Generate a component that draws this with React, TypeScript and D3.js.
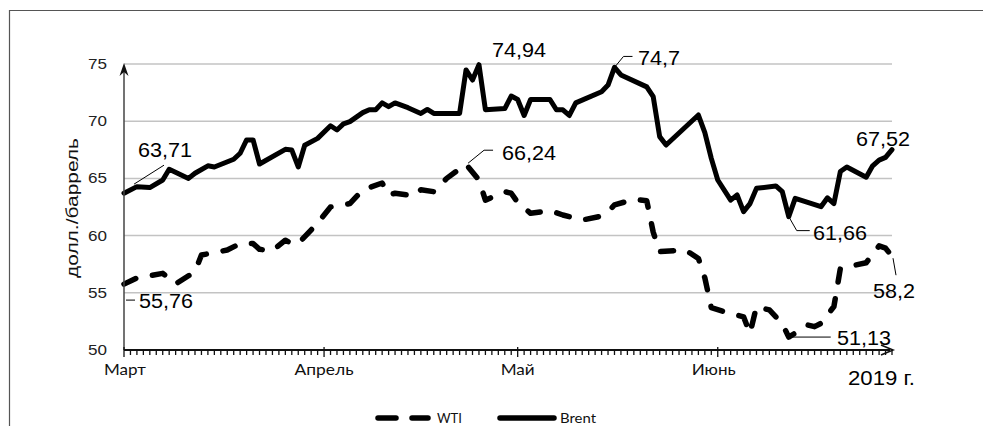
import React from "react";
import * as d3 from "d3";

const brentDates = [
  "2019-03-01","2019-03-03","2019-03-05","2019-03-07","2019-03-08","2019-03-11","2019-03-12","2019-03-14","2019-03-15","2019-03-18",
  "2019-03-19","2019-03-20","2019-03-21","2019-03-22","2019-03-26","2019-03-27","2019-03-28","2019-03-29","2019-03-31","2019-04-02",
  "2019-04-03","2019-04-04","2019-04-05","2019-04-07","2019-04-08","2019-04-09","2019-04-10","2019-04-11","2019-04-12","2019-04-14",
  "2019-04-16","2019-04-17","2019-04-18","2019-04-22","2019-04-23","2019-04-24","2019-04-25","2019-04-26","2019-04-29","2019-04-30",
  "2019-05-01","2019-05-02","2019-05-03","2019-05-06","2019-05-07","2019-05-08","2019-05-09","2019-05-10","2019-05-14","2019-05-15",
  "2019-05-16","2019-05-17","2019-05-21","2019-05-22","2019-05-23","2019-05-24","2019-05-29","2019-05-30","2019-05-31","2019-06-01",
  "2019-06-03","2019-06-04","2019-06-05","2019-06-06","2019-06-07","2019-06-10","2019-06-11","2019-06-12","2019-06-13","2019-06-17",
  "2019-06-18","2019-06-19","2019-06-20","2019-06-21","2019-06-24","2019-06-25","2019-06-26","2019-06-27","2019-06-28"
];
const brentValues = [
  63.71,64.28,64.2,64.86,65.8,65.0,65.45,66.1,66.0,66.67,
  67.2,68.36,68.36,66.26,67.54,67.48,66.0,67.9,68.5,69.6,
  69.23,69.76,69.96,70.75,71.0,71.0,71.6,71.27,71.6,71.18,
  70.68,71.03,70.68,70.68,74.48,73.6,74.94,71.0,71.1,72.2,
  71.9,70.5,71.9,71.9,71.0,71.0,70.5,71.6,72.58,73.16,
  74.7,74.04,73.0,72.14,68.65,67.92,70.54,69.0,66.75,64.86,
  63.1,63.55,62.1,62.8,64.13,64.34,63.84,61.66,63.26,62.53,
  63.3,62.8,65.6,66.0,65.1,66.1,66.6,66.84,67.52
];

const wtiDates = [
  "2019-03-01","2019-03-03","2019-03-07","2019-03-09","2019-03-12","2019-03-13","2019-03-17","2019-03-19","2019-03-21","2019-03-22",
  "2019-03-24","2019-03-26","2019-03-27","2019-03-28","2019-03-31","2019-04-02","2019-04-05","2019-04-07","2019-04-10","2019-04-11",
  "2019-04-12","2019-04-15","2019-04-16","2019-04-18","2019-04-20","2019-04-23","2019-04-25","2019-04-26","2019-04-29","2019-04-30",
  "2019-05-01","2019-05-03","2019-05-06","2019-05-08","2019-05-10","2019-05-11","2019-05-14","2019-05-15","2019-05-16","2019-05-19",
  "2019-05-21","2019-05-22","2019-05-23","2019-05-27","2019-05-29","2019-05-30","2019-05-31","2019-06-02","2019-06-05","2019-06-06",
  "2019-06-07","2019-06-09","2019-06-11","2019-06-12","2019-06-15","2019-06-16","2019-06-17","2019-06-19","2019-06-20","2019-06-24",
  "2019-06-26","2019-06-27","2019-06-28"
];
const wtiValues = [
  55.76,56.3,56.7,55.77,56.85,58.3,58.74,59.3,59.3,58.8,
  58.68,59.6,59.3,59.3,61.1,62.5,62.8,64.0,64.6,63.55,
  63.7,63.46,64.0,63.84,65.0,66.24,64.86,63.1,63.84,63.7,
  62.9,61.95,62.18,61.8,61.5,61.36,61.71,62.09,62.68,63.17,
  63.05,60.3,58.6,58.74,58.0,56.3,53.7,53.35,52.9,51.46,
  53.8,53.5,52.3,51.13,52.18,52.04,52.33,53.8,57.14,57.63,
  59.1,58.9,58.2
];

const yTicks = [50, 55, 60, 65, 70, 75];
const monthLabels = ["Март", "Апрель", "Май", "Июнь"];
const monthDates = ["2019-03-01", "2019-04-01", "2019-05-01", "2019-06-01"];
const yearLabel = "2019 г.";
const yTitle = "долл./баррель";
const seriesNames = ["WTI", "Brent"];

// annotations: value label text, anchor date and which series
const annotations = [
  { text: "63,71", date: "2019-03-01", series: "Brent" },
  { text: "74,94", date: "2019-04-25", series: "Brent" },
  { text: "74,7", date: "2019-05-16", series: "Brent" },
  { text: "61,66", date: "2019-06-12", series: "Brent" },
  { text: "67,52", date: "2019-06-28", series: "Brent" },
  { text: "55,76", date: "2019-03-01", series: "WTI" },
  { text: "66,24", date: "2019-04-23", series: "WTI" },
  { text: "51,13", date: "2019-06-12", series: "WTI" },
  { text: "58,2", date: "2019-06-28", series: "WTI" },
];

const parse = d3.utcParse("%Y-%m-%d");

export default function App() {
  const W = 983, H = 426;
  const x0 = 124, x1 = 892, yTop = 64, yBot = 350;
  const x = d3.scaleUtc().domain([parse("2019-03-01")!, parse("2019-06-28")!]).range([x0, x1]);
  const y = d3.scaleLinear().domain([50, 75]).range([yBot, yTop]);

  const brent = brentDates.map((d, i) => ({ d: parse(d)!, v: brentValues[i] }));
  const wti = wtiDates.map((d, i) => ({ d: parse(d)!, v: wtiValues[i] }));
  const line = d3.line<{ d: Date; v: number }>().x((p) => x(p.d)).y((p) => y(p.v));

  const days = d3.utcDay.range(parse("2019-03-01")!, parse("2019-06-29")!);
  const monthSet = new Set(monthDates);
  const fmt = d3.utcFormat("%Y-%m-%d");

  const pt = (a: { date: string; series: string }) => {
    const arr = a.series === "Brent" ? brent : wti;
    const p = arr.find((q) => fmt(q.d) === a.date)!;
    return [x(p.d), y(p.v)];
  };

  const annLayout: Record<string, { tx: number; ty: number; lead?: (p: number[]) => string }> = {
    "63,71": { tx: 138, ty: 157, lead: (p) => `M${p[0] + 10},${p[1] - 9}L${p[0] + 40},${p[1] - 28}` },
    "74,94": { tx: 492, ty: 57 },
    "74,7": { tx: 638, ty: 65, lead: (p) => `M${p[0]},${p[1]}L${p[0] + 9},${p[1] - 11}L${p[0] + 18},${p[1] - 11}` },
    "61,66": { tx: 813, ty: 240, lead: (p) => `M${p[0]},${p[1]}L${p[0] + 8},${p[1] + 14}L${p[0] + 21},${p[1] + 14}` },
    "67,52": { tx: 856, ty: 146 },
    "55,76": { tx: 139, ty: 308, lead: (p) => `M${p[0] + 2},${p[1] + 16}L${p[0] + 11},${p[1] + 16}` },
    "66,24": { tx: 502, ty: 160, lead: (p) => `M${p[0] + 2},${p[1] - 1}L${p[0] + 18},${p[1] - 14}L${p[0] + 27},${p[1] - 14}` },
    "51,13": { tx: 837, ty: 345, lead: (p) => `M${p[0] + 3},${p[1]}L${p[0] + 42},${p[1]}` },
    "58,2": { tx: 873, ty: 298, lead: (p) => `M${p[0] + 1},${p[1] + 2}L${p[0] + 4},${p[1] + 19}` },
  };

  const arial = "'Liberation Sans', Arial, sans-serif";
  const calibri = "Lato, 'Open Sans', sans-serif";

  return (
    <div style={{ position: "fixed", left: 0, top: 0, width: W, height: H, background: "#fff" }}>
      <svg width={W} height={H} viewBox={`0 0 ${W} ${H}`} style={{ display: "block" }}>
        <rect x={0} y={0} width={W} height={H} fill="#fff" />
        {/* outer frame */}
        <path d={`M9.5,${H}L9.5,10.5L${W},10.5`} fill="none" stroke="#555" strokeWidth={1.2} />

        {/* gridlines */}
        {yTicks.filter((t) => t > 50).map((t) => (
          <line key={t} x1={x0} x2={x1} y1={y(t)} y2={y(t)} stroke="#c3c3c3" strokeWidth={1.5} />
        ))}

        {/* y tick labels */}
        {yTicks.map((t) => (
          <text key={t} x={107} y={y(t) + 5} textAnchor="end" fontFamily={arial} fontSize={14}
            textLength={19} lengthAdjust="spacingAndGlyphs" fill="#222">{t}</text>
        ))}

        {/* y title */}
        <text transform="translate(78,208) rotate(-90)" textAnchor="middle" fontFamily={arial}
          fontSize={16} textLength={140} lengthAdjust="spacingAndGlyphs" fill="#111">{yTitle}</text>

        {/* series */}
        <path d={line(wti)!} fill="none" stroke="#000" strokeWidth={5.5} strokeLinecap="round"
          strokeLinejoin="round" strokeDasharray="13,17" />
        <path d={line(brent)!} fill="none" stroke="#000" strokeWidth={5} strokeLinejoin="round" strokeLinecap="round" />

        {/* y axis */}
        <line x1={x0} x2={x0} y1={yBot} y2={yTop + 4} stroke="#444" strokeWidth={1.5} />
        <path d={`M${x0 - 4.5},${yTop + 12}L${x0},${yTop - 1}L${x0 + 4.5},${yTop + 12}L${x0},${yTop + 8}Z`} fill="#111" />

        {/* x axis */}
        <line x1={x0} x2={x1 - 2} y1={yBot} y2={yBot} stroke="#111" strokeWidth={2} />
        {days.map((dd) => {
          const isMonth = monthSet.has(fmt(dd));
          return (
            <line key={+dd} x1={x(dd)} x2={x(dd)} y1={isMonth ? yBot - 3 : yBot} y2={yBot + (isMonth ? 7 : 5)}
              stroke="#111" strokeWidth={1.3} />
          );
        })}
        <path d={`M${x1 - 11},${yBot - 5}L${x1 + 1},${yBot}L${x1 - 11},${yBot + 5}`} fill="none" stroke="#111" strokeWidth={1.6} />

        {/* month labels */}
        {monthLabels.map((m, i) => {
          const widths = [42, 59, 34, 44];
          return (
            <text key={m} x={x(parse(monthDates[i])!) + (i === 0 ? 1 : 0) + (i === 3 ? -4 : 0)} y={375} textAnchor="middle"
              fontFamily={calibri} fontSize={16} textLength={widths[i]} lengthAdjust="spacingAndGlyphs" fill="#111">{m}</text>
          );
        })}
        <text x={848} y={385} fontFamily={arial} fontSize={20} textLength={67} lengthAdjust="spacingAndGlyphs" fill="#000">{yearLabel}</text>

        {/* annotations */}
        {annotations.map((a) => {
          const L = annLayout[a.text];
          const p = pt(a);
          return (
            <g key={a.text}>
              {L.lead && <path d={L.lead(p)} fill="none" stroke="#000" strokeWidth={1} />}
              <text x={L.tx} y={L.ty} fontFamily={arial} fontSize={20} textLength={a.text.length === 4 ? 42 : 54}
                lengthAdjust="spacingAndGlyphs" fill="#000">{a.text}</text>
            </g>
          );
        })}

        {/* legend */}
        <line x1={378} x2={396} y1={418} y2={418} stroke="#000" strokeWidth={5.5} strokeLinecap="round" />
        <line x1={412} x2={428} y1={418} y2={418} stroke="#000" strokeWidth={5.5} strokeLinecap="round" />
        <text x={437} y={423} fontFamily={calibri} fontSize={13} textLength={25} lengthAdjust="spacingAndGlyphs" fill="#111">{seriesNames[0]}</text>
        <line x1={500} x2={554} y1={418} y2={418} stroke="#000" strokeWidth={5.5} strokeLinecap="round" />
        <text x={560} y={423} fontFamily={calibri} fontSize={13} textLength={36} lengthAdjust="spacingAndGlyphs" fill="#111">{seriesNames[1]}</text>
      </svg>
    </div>
  );
}
